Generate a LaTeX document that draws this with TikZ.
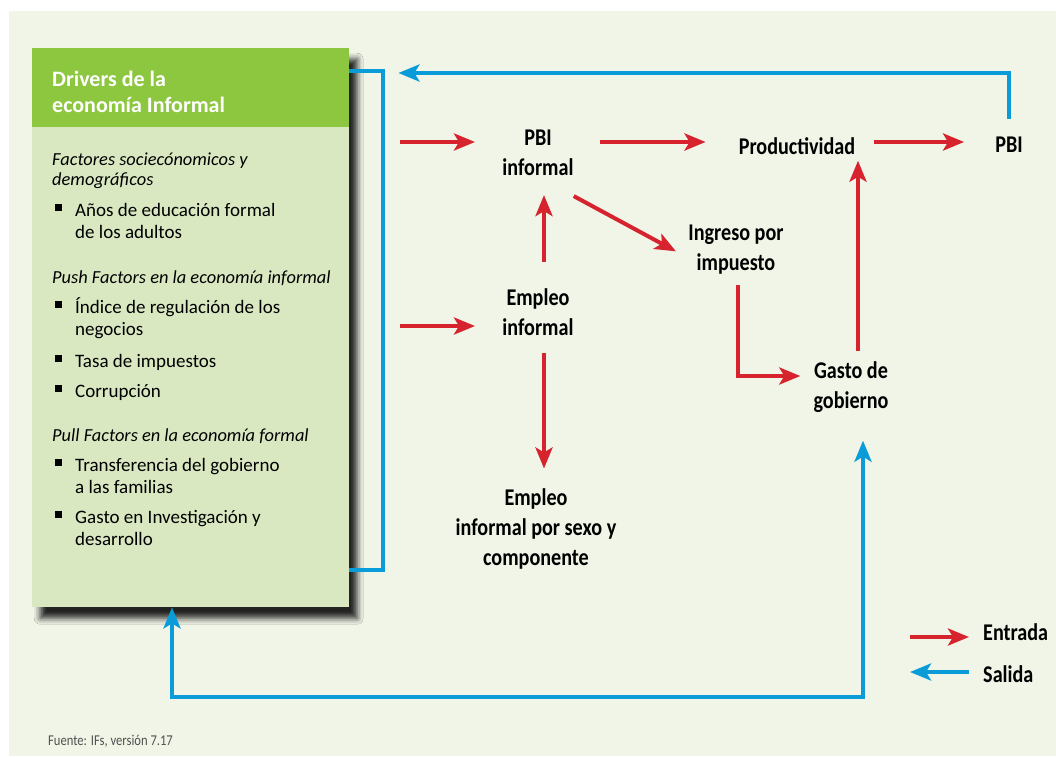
\documentclass[tikz,border=0pt]{standalone}
\usepackage{fontspec}
\setmainfont{Carlito}
\newfontfamily\condfont[FakeStretch=0.84]{Carlito}
\usetikzlibrary{arrows.meta,positioning,shadows.blur}

\definecolor{bgpale}{RGB}{240,245,232}
\definecolor{drvhead}{RGB}{141,198,63}
\definecolor{drvbody}{RGB}{218,232,194}
\definecolor{inred}{RGB}{214,35,45}
\definecolor{outblue}{RGB}{10,155,217}
\definecolor{srcgray}{RGB}{80,80,80}

\tikzset{
  lbl/.style={font=\condfont\bfseries\fontsize{24}{30}\selectfont, align=center, inner sep=0pt},
  boxtxt/.style={font=\fontsize{19}{22}\selectfont, anchor=base west, inner sep=0pt},
  boxit/.style={boxtxt, font=\itshape\fontsize{18.4}{22}\selectfont},
  inarr/.style={draw=inred, line width=4pt, -{Stealth[length=21pt,width=17pt,inset=5pt]}},
  outarr/.style={draw=outblue, line width=4pt, -{Stealth[length=21pt,width=17pt,inset=5pt]}},
}

\begin{document}
\begin{tikzpicture}[x=1pt,y=-1pt]
  \useasboundingbox (0,0) rectangle (1056,756);
  \fill[white] (0,0) rectangle (1056,756);
  \fill[bgpale] (9,11) rectangle (1056,756);

  % drivers box
  \node[fill=drvbody, minimum width=317pt, minimum height=559pt, anchor=north west, inner sep=0pt,
        blur shadow={shadow xshift=8pt, shadow yshift=-11pt, shadow blur radius=6pt, shadow opacity=85}] (drv) at (32,48) {};
  \node[fill=drvhead, minimum width=317pt, minimum height=79pt, anchor=north west, inner sep=0pt] (drvhd) at (drv.north west) {};
  \node[boxtxt, font=\bfseries\fontsize{22}{26}\selectfont, text=white] (ttl1) at (52,86) {Drivers de la};
  \node[boxtxt, font=\bfseries\fontsize{22}{26}\selectfont, text=white] (ttl2) at (52,112) {economía Informal};

  \foreach \yy/\txt [count=\i] in {165/{Factores sociecónomicos y}, 185/{demográficos},
      283/{Push Factors en la economía informal}, 441/{Pull Factors en la economía formal}}
    \node[boxit] (hd\i) at (52,\yy) {\txt};
  \foreach \yy/\txt [count=\i] in {216/{Años de educación formal}, 238/{de los adultos},
      313/{Índice de regulación de los}, 335/{negocios}, 367/{Tasa de impuestos}, 397/{Corrupción},
      471/{Transferencia del gobierno}, 493/{a las familias},
      523/{Gasto en Investigación y}, 545/{desarrollo}}
    \node[boxtxt] (it\i) at (75,\yy) {\txt};
  \foreach \yy in {216,313,367,397,471,523}
    \fill (55,\yy-5) rectangle ++(7,-7);

  % model nodes
  \node[lbl] (pbiinf) at (538,153) {PBI\\informal};
  \node[lbl] (prod) at (797,146) {Productividad};
  \node[lbl] (pbi) at (1009,145) {PBI};
  \node[lbl] (ingreso) at (736,250) {Ingreso por\\impuesto};
  \node[lbl] (empinf) at (538,312) {Empleo\\informal};
  \node[lbl] (gasto) at (851,387) {Gasto de\\gobierno};
  \node[lbl] (empsex) at (536,529) {Empleo\\informal por sexo y\\componente};

  \coordinate (inpbi) at (400,142);
  \coordinate (inemp) at (400,326);

  % entrada
  \draw[inarr] (inpbi) -- (inpbi -| 475,0);
  \draw[inarr] (inemp) -- (inemp -| 475,0);
  \draw[inarr, shorten <=26pt, shorten >=33pt] (pbiinf.east |- inpbi) -- (prod.west |- inpbi);
  \draw[inarr, shorten <=19pt, shorten >=31pt] (prod.east |- inpbi) -- (pbi.west |- inpbi);
  \draw[inarr, shorten <=26pt, shorten >=19pt] ([xshift=6pt]empinf.north) -- ([xshift=6pt]empinf.north |- pbiinf.south);
  \draw[inarr, shorten <=17pt, shorten >=20pt] ([xshift=6pt]empinf.south) -- ([xshift=6pt]empinf.south |- empsex.north);
  \draw[inarr, shorten >=14pt] ([yshift=-20pt]pbiinf.south east) -- ([yshift=-8pt]ingreso.west);
  \draw[inarr, shorten <=10pt, shorten >=13pt] ([xshift=2pt]ingreso.south) |- ([yshift=11pt]gasto.west);
  \draw[inarr, shorten <=10pt, shorten >=6pt] ([xshift=7pt]gasto.north) -- ([xshift=7pt]gasto.north |- prod.south);

  % salida
  \draw[outarr, shorten <=18pt] (pbi.north) |- ([shift={(49,25)}]drv.north east);
  \draw[draw=outblue, line width=4pt] ([yshift=-23pt]drv.north east) -- ++(34,0) |- ([yshift=37pt]drv.south east);
  \draw[outarr, {Stealth[length=21pt,width=17pt,inset=5pt]}-{Stealth[length=21pt,width=17pt,inset=5pt]}, shorten >=28pt]
    ([xshift=140pt]drv.south west) -- ++(0,90) -| ([xshift=12pt]gasto.south);

  % legend
  \node[lbl, anchor=base west] (entrada) at (983,640) {Entrada};
  \node[lbl, anchor=base west] (salida) at (983,682) {Salida};
  \coordinate (legin) at (910,637);
  \coordinate (legout) at (910,672);
  \draw[inarr, shorten >=14pt] (legin) -- (entrada.west |- legin);
  \draw[outarr, shorten <=14pt] (salida.west |- legout) -- (legout);

  \node[font=\condfont\fontsize{15}{18}\selectfont, text=srcgray, anchor=base west, inner sep=0pt] (src) at (48,745) {Fuente: IFs, versión 7.17};
\end{tikzpicture}
\end{document}
